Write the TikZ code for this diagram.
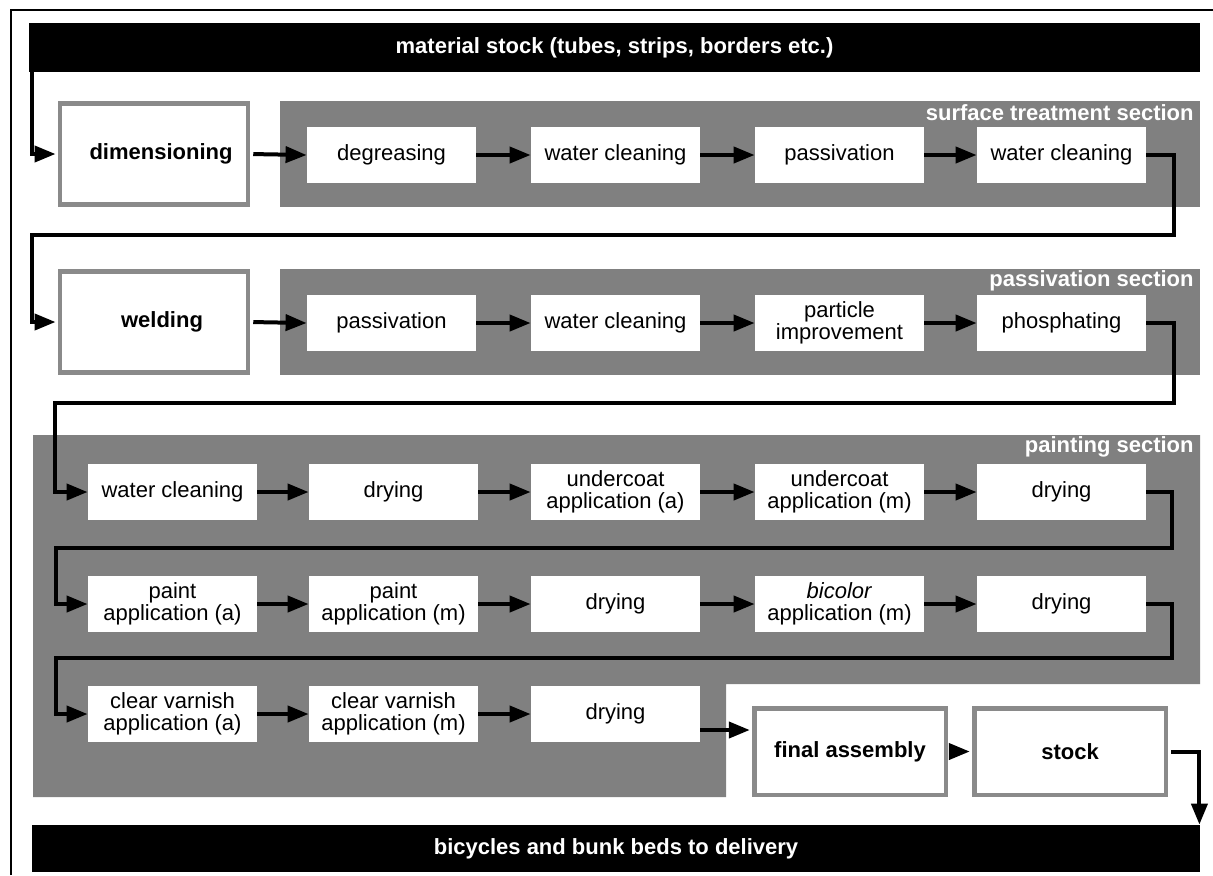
\documentclass[tikz,border=0pt]{standalone}
\usepackage{fontspec}
\setmainfont{Liberation Sans}
\usepackage{xcolor}
\usetikzlibrary{arrows.meta,positioning,calc}

\definecolor{secgray}{HTML}{808080}
\definecolor{framegray}{HTML}{8A8A8A}

\begin{document}
\begin{tikzpicture}[
    x=0.5pt, y=-0.5pt,
    font=\fontsize{11}{10.9}\selectfont,
    procbox/.style={fill=white, align=center, minimum width=84.5pt, minimum height=28pt, inner sep=1pt},
    mainbox/.style={draw=framegray, fill=white, line width=2.25pt, align=center,
                    font=\fontsize{11}{10.9}\selectfont\bfseries, minimum width=94pt, minimum height=50.5pt},
    bar/.style={fill=black, text=white, font=\fontsize{11}{13}\selectfont\bfseries},
    section/.style={fill=secgray},
    seclabel/.style={anchor=east, text=white, font=\fontsize{11}{13}\selectfont\bfseries, inner sep=0pt},
    flow/.style={-{Triangle[length=10.5pt,width=8pt]}, line width=2pt}
]
\useasboundingbox (0,0) rectangle (1213,875);

% frame
\draw[line width=0.8pt] (11,875) -- (11,10) -- (1213,10);

% sections
\fill[section] (280,101) rectangle (1200,207);
\fill[section] (280,269) rectangle (1200,375);
\fill[section] (33,435) -- (1200,435) -- (1200,684) -- (726,684) -- (726,797) -- (33,797) -- cycle;
\node[seclabel] (lblSurface) at (1194,113) {surface treatment section};
\node[seclabel] (lblPassiv) at (1194,281) {passivation section};
\node[seclabel] (lblPaint) at (1194,447) {painting section};

% material in / out
\node[bar, minimum width=585.5pt, minimum height=24.5pt] (stockbar) at (614.5,47.5) {material stock (tubes, strips, borders etc.)};
\node[bar, minimum width=584pt, minimum height=23.5pt] (delivery) at (616,848.5) {bicycles and bunk beds to delivery};

% row 1
\node[mainbox] (dim) at (154,154) {\hspace*{7pt}dimensioning};
\node[procbox] (deg) at (391.5,155) {degreasing};
\node[procbox] (wcA) at (615.5,155) {water cleaning};
\node[procbox] (pasA) at (839.5,155) {passivation};
\node[procbox] (wcB) at (1061.5,155) {water cleaning};

% row 2
\node[mainbox] (weld) at (154,322) {\hspace*{8pt}welding};
\node[procbox] (pasB) at (391.5,323) {passivation};
\node[procbox] (wcC) at (615.5,323) {water cleaning};
\node[procbox] (part) at (839.5,323) {particle\\improvement};
\node[procbox] (phos) at (1061.5,323) {phosphating};

% painting rows
\node[procbox] (wcD) at (172.5,492) {water cleaning};
\node[procbox] (dryA) at (393.5,492) {drying};
\node[procbox] (ucA) at (615.5,492) {undercoat\\application (a)};
\node[procbox] (ucM) at (839.5,492) {undercoat\\application (m)};
\node[procbox] (dryB) at (1061.5,492) {drying};

\node[procbox] (paA) at (172.5,604) {paint\\application (a)};
\node[procbox] (paM) at (393.5,604) {paint\\application (m)};
\node[procbox] (dryC) at (615.5,604) {drying};
\node[procbox] (bic) at (839.5,604) {\textit{bicolor}\\application (m)};
\node[procbox] (dryD) at (1061.5,604) {drying};

\node[procbox] (cvA) at (172.5,714) {clear varnish\\application (a)};
\node[procbox] (cvM) at (393.5,714) {clear varnish\\application (m)};
\node[procbox] (dryE) at (615.5,714) {drying};

\node[mainbox, minimum width=95.75pt, minimum height=43.25pt] (final) at (850,751.5) {final assembly};
\node[mainbox, minimum width=95.75pt, minimum height=43.25pt] (stock) at (1070,751.5) {stock};

% turns
\coordinate (turnAB) at (32,235);
\coordinate (turnBC) at (55,403);
\coordinate (turnC12) at (56,548);
\coordinate (turnC23) at (56,658);

% connectors
\draw[flow, shorten >=1.1pt] ([xshift=1.5pt]stockbar.south west) |- (dim.west);
\draw[flow, shorten <=1.5pt] (dim.east) -- (deg.west);
\draw[flow] (deg.east) -- (wcA.west);
\draw[flow] (wcA.east) -- (pasA.west);
\draw[flow] (pasA.east) -- (wcB.west);
\draw[flow, shorten >=1.1pt] (wcB.east) -- ++(28,0) |- (turnAB) |- (weld.west);

\draw[flow, shorten <=1.5pt] (weld.east) -- (pasB.west);
\draw[flow] (pasB.east) -- (wcC.west);
\draw[flow] (wcC.east) -- (part.west);
\draw[flow] (part.east) -- (phos.west);
\draw[flow] (phos.east) -- ++(28,0) |- (turnBC) |- (wcD.west);

\draw[flow] (wcD.east) -- (dryA.west);
\draw[flow] (dryA.east) -- (ucA.west);
\draw[flow] (ucA.east) -- (ucM.west);
\draw[flow] (ucM.east) -- (dryB.west);
\draw[flow] (dryB.east) -- ++(26,0) |- (turnC12) |- (paA.west);

\draw[flow] (paA.east) -- (paM.west);
\draw[flow] (paM.east) -- (dryC.west);
\draw[flow] (dryC.east) -- (bic.west);
\draw[flow] (bic.east) -- (dryD.west);
\draw[flow] (dryD.east) -- ++(26,0) |- (turnC23) |- (cvA.west);

\draw[flow] (cvA.east) -- (cvM.west);
\draw[flow] (cvM.east) -- (dryE.west);
\draw[flow, shorten >=1.1pt] ([yshift=-8pt]dryE.east) -- ([yshift=-8pt]dryE.east -| final.west);
\draw[flow, shorten <=1.5pt, shorten >=1.1pt] (final.east) -- (stock.west);
\draw[flow, shorten <=1.5pt] (stock.east) -| ([xshift=-0.5pt]delivery.north east);

\end{tikzpicture}
\end{document}
